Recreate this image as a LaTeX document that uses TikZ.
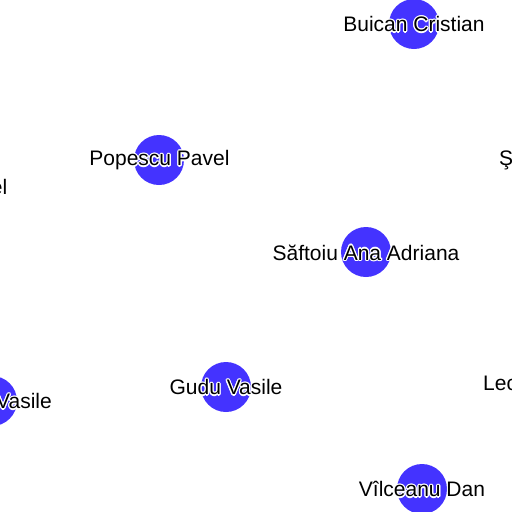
\documentclass[tikz,border=0pt]{standalone}
\usepackage{fontspec}
\setmainfont{Liberation Sans}
\usepackage{contour}
\contourlength{1.2pt}
\contournumber{12}
\definecolor{nodeblue}{RGB}{68,51,255}
\tikzset{
  person/.style={circle, fill=nodeblue, minimum size=50pt, inner sep=0pt},
  lbl/.style={font=\fontsize{21}{23}\selectfont, inner sep=0pt}
}
\begin{document}
\begin{tikzpicture}[x=1pt,y=-1pt]
\useasboundingbox (0,0) rectangle (512,512);
\begin{scope}
\clip (0,0) rectangle (512,512);
\node[person] (buican) at (414,24) {};
\node[person] (popescu) at (159,160) {};
\node[person] (saftoiu) at (366,252) {};
\node[person] (gudu) at (226,387) {};
\node[person] (vilceanu) at (422,489) {};
\node[person] (vasileL) at (-8,401) {};
\node[lbl] (tbuican) at (414,25) {\contour{white}{Buican Cristian}};
\node[lbl] (tpopescu) at (159.5,161) {\contour{white}{Popescu Pavel}};
\node[lbl] (tsaftoiu) at (366,253) {\contour{white}{Săftoiu Ana Adriana}};
\node[lbl] (tgudu) at (226,388) {\contour{white}{Gudu Vasile}};
\node[lbl] (tvilceanu) at (422,490) {\contour{white}{Vîlceanu Dan}};
\node[lbl, anchor=east] (tvasileL) at (52,402) {\contour{white}{Vasile}};
\node[lbl, anchor=east] (tel) at (7.5,188) {\contour{white}{el}};
\node[lbl, anchor=west] (tst) at (499,161) {\contour{white}{Ş}};
\node[lbl, anchor=west] (tlec) at (483,384) {\contour{white}{Lec}};
\end{scope}
\end{tikzpicture}
\end{document}
